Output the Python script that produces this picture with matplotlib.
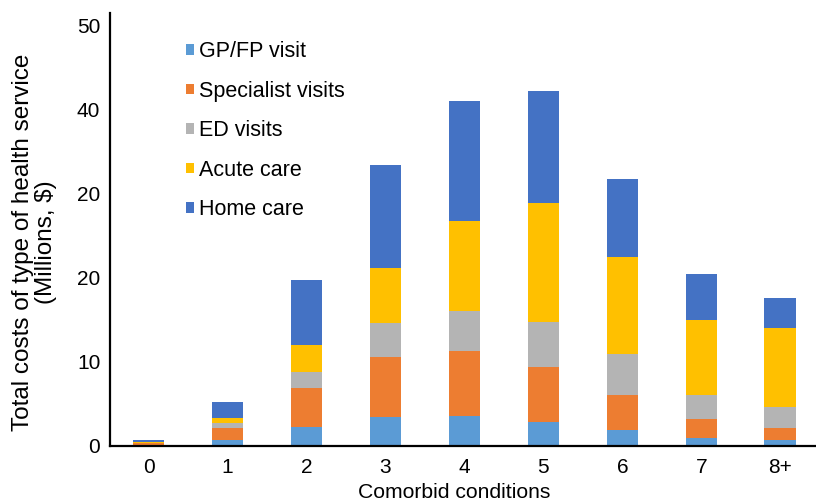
import matplotlib
matplotlib.use("Agg")
import matplotlib.pyplot as plt
import numpy as np

plt.rcParams['font.family'] = ['Liberation Sans', 'DejaVu Sans']

categories = ["0", "1", "2", "3", "4", "5", "6", "7", "8+"]
gp_fp = [0.05, 0.75, 2.26, 3.45, 3.57, 2.90, 1.87, 0.95, 0.71]
specialist = [0.30, 1.43, 4.68, 7.15, 7.74, 6.47, 4.20, 2.26, 1.47]
ed_visits = [0.05, 0.52, 1.83, 4.08, 4.80, 5.43, 4.85, 2.86, 2.50]
acute_care = [0.05, 0.67, 3.25, 6.47, 10.60, 14.09, 11.54, 8.89, 9.41]
home_care = [0.25, 1.90, 7.74, 12.30, 14.37, 13.29, 9.29, 5.52, 3.53]

series = [
    ("GP/FP visit", gp_fp, "#5B9BD5"),
    ("Specialist visits", specialist, "#ED7D31"),
    ("ED visits", ed_visits, "#B4B4B4"),
    ("Acute care", acute_care, "#FFC000"),
    ("Home care", home_care, "#4472C4"),
]

ytick_values = [0, 10, 20, 30, 40, 50]
ytick_labels = ["0", "10", "20", "20", "40", "50"]

fig = plt.figure(figsize=(8.16, 5.04), dpi=100)
ax = fig.add_axes([0.1348, 0.1151, 0.864, 0.859])

x = np.arange(len(categories))
bottom = np.zeros(len(categories))
for name, vals, color in series:
    vals = np.array(vals)
    ax.bar(x, vals, width=0.4, bottom=bottom, color=color, label=name, linewidth=0)
    bottom += vals

ax.set_xlim(-0.49, 8.44)
ax.set_ylim(0, 51.5)
ax.set_xticks(x)
ax.set_xticklabels(categories, fontsize=15)
ax.set_yticks(ytick_values)
ax.set_yticklabels(ytick_labels, fontsize=15)
ax.tick_params(axis='x', length=0, pad=9)
ax.tick_params(axis='y', length=0, pad=7)

for s in ['top', 'right']:
    ax.spines[s].set_visible(False)
ax.spines['left'].set_linewidth(1.6)
ax.spines['bottom'].set_linewidth(1.6)

ax.set_xlabel("Comorbid conditions", fontsize=15.2, va='center')
ax.xaxis.set_label_coords(0.488, -0.1085)
ax.set_ylabel("Total costs of type of health service\n(Millions, $)", fontsize=17.5,
              linespacing=1.05, va='center')
ax.yaxis.set_label_coords(-0.107, 0.471)

leg = ax.legend(loc='upper left', bbox_to_anchor=(0.096, 0.955), frameon=False,
                fontsize=15.5, handlelength=0.38, handleheight=0.38, handletextpad=0.22,
                labelspacing=0.86, borderaxespad=0)

fig.savefig("out.png", dpi=100)
